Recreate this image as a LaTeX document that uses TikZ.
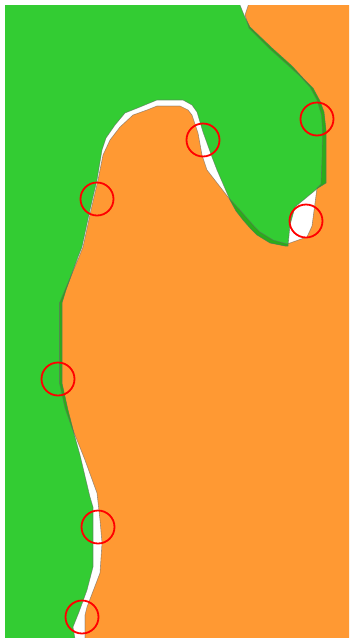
\documentclass[tikz,border=0pt]{standalone}
\definecolor{grn}{RGB}{51,204,51}
\definecolor{org}{RGB}{255,153,51}
\definecolor{dgrn}{RGB}{42,172,26}
\def\greenpath{(0,0) -- (238,0) -- (244,15) -- (250,27) -- (272,48) -- (292,66) -- (303,78) -- (313,88) -- (320,101) -- (324,112) -- (326,130) -- (326,183) -- (318,188) -- (295,207) -- (290,225) -- (288,246) -- (285,246) -- (270,243) -- (257,235) -- (250,228) -- (243,220) -- (236,211) -- (230,200) -- (217,170) -- (212,157) -- (203,132) -- (197,112) -- (192,105) -- (183,100) -- (157,100) -- (140,107) -- (125,113) -- (115,125) -- (106,138) -- (102,150) -- (97,180) -- (90,210) -- (82,247) -- (78,257) -- (66,290) -- (62,303) -- (62,383) -- (68,410) -- (75,437) -- (80,455) -- (90,497) -- (93,507) -- (93,567) -- (87,590) -- (79,612) -- (73,627) -- (76,645) -- (0,645) -- cycle}
\def\orangepath{(250,0) -- (355,0) -- (355,645) -- (85,645) -- (85,615) -- (87,607) -- (100,573) -- (102,543) -- (100,520) -- (97,493) -- (85,460) -- (77,440) -- (72,428) -- (65,408) -- (59.5,383) -- (59.5,303) -- (65,290) -- (79,257) -- (83,247) -- (91,210) -- (98,180) -- (103,155) -- (110,140) -- (120,127) -- (133,115) -- (147,110) -- (157,106) -- (180,106) -- (188,110) -- (192,115) -- (198,133) -- (202,155) -- (207,170) -- (228,197) -- (240,210) -- (247,218) -- (254,226) -- (260,232) -- (273,240) -- (287,244) -- (307,237) -- (312,226) -- (317,188) -- (321,184) -- (322,160) -- (322.5,130) -- (321.5,115) -- (317,100) -- (310,87) -- (300,76) -- (270,49) -- (249,28) -- (245,15) -- cycle}
\tikzset{
  edgeline/.style={draw=black!60, line width=0.6pt, draw opacity=0.6, line join=round},
  mark circle/.style={draw=red, line width=1.8pt}
}
\begin{document}
\begin{tikzpicture}[x=1pt,y=-1pt]
\useasboundingbox (0,0) rectangle (351,638);
\begin{scope}
  \clip (5,5) rectangle (349,638);
  \fill[org] \orangepath;
  \fill[grn] \greenpath;
  \begin{scope}
    \clip \orangepath;
    \fill[dgrn] \greenpath;
  \end{scope}
  \path[edgeline] \orangepath;
  \path[edgeline] \greenpath;
\end{scope}
\draw[mark circle] (203,140) circle (16.5);
\draw[mark circle] (317,119) circle (16.5);
\draw[mark circle] (97,199) circle (16.5);
\draw[mark circle] (306,221) circle (16.5);
\draw[mark circle] (58,379) circle (16.5);
\draw[mark circle] (98,527) circle (16.5);
\draw[mark circle] (82,617) circle (16.5);
\end{tikzpicture}
\end{document}
